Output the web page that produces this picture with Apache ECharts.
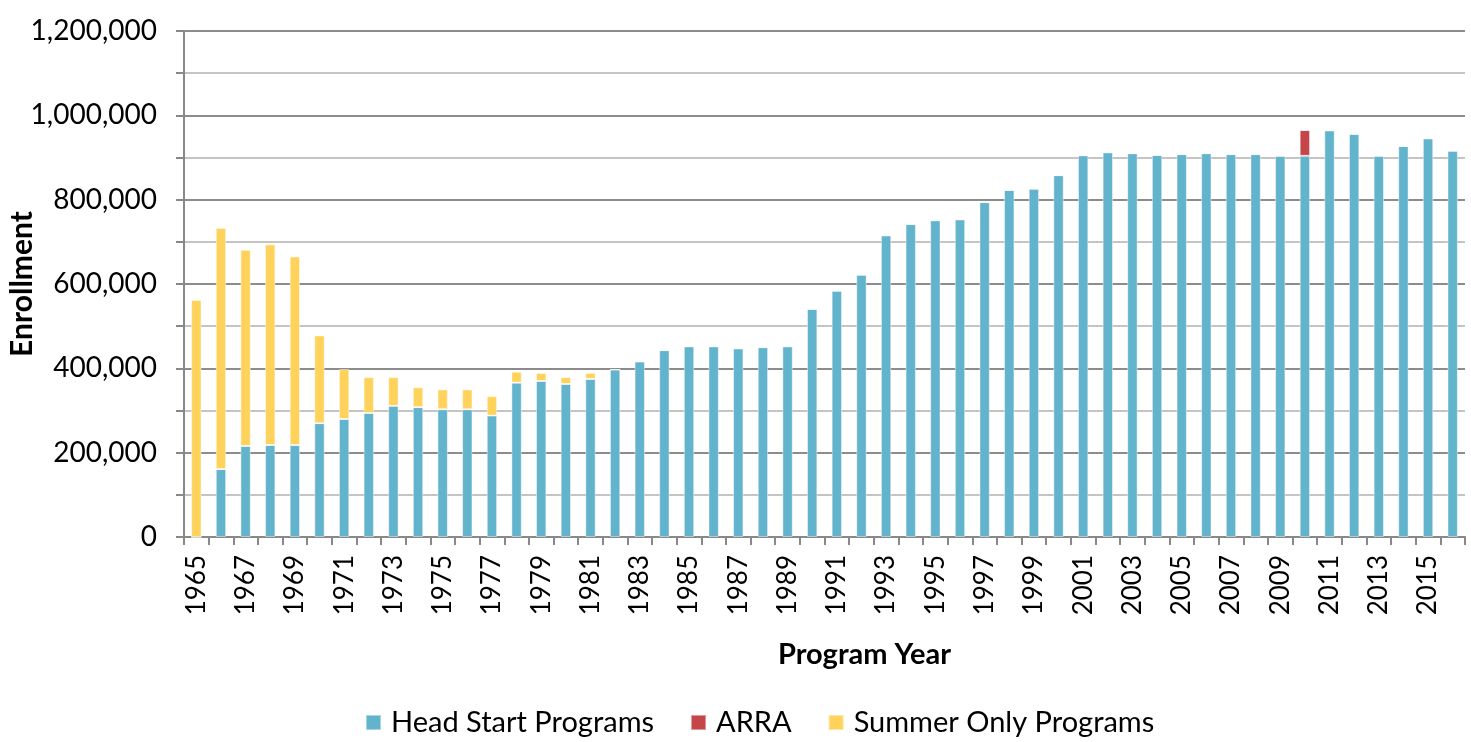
<!DOCTYPE html>
<html>
<head>
    <meta charset="utf-8">
    <title>Head Start Enrollment</title>
    <script src="https://cdn.jsdelivr.net/npm/echarts@6/dist/echarts.min.js"></script>
    <style>
        html, body { margin: 0; padding: 0; background: #fff; }
    </style>
</head>
<body>
    <div id="main" style="width:1471px;height:742px;"></div>
    <script type="text/javascript">
        // program years 1965 - 2016
        var years = [];
        for (var y = 1965; y <= 2016; y++) years.push(String(y));

        var headStart = [
            0, 161000, 216000, 218000, 218000, 270000, 280000, 294000, 311000, 308000,
            303000, 303000, 288000, 366000, 370000, 363000, 375000, 397000, 416000, 443000,
            452000, 452000, 447000, 450000, 452000, 541000, 584000, 622000, 715000, 742000,
            751000, 753000, 794000, 823000, 826000, 858000, 905000, 912000, 910000, 906000,
            908000, 910000, 908000, 908000, 904000, 904000, 964000, 956000, 904000, 927000,
            945000, 916000
        ];
        var arra = [];
        for (var i = 0; i < years.length; i++) arra.push(years[i] === '2010' ? 61000 : 0);
        var summerOnly = [
            562000, 572000, 465000, 476000, 447000, 208000, 118000, 85000, 68000, 47000,
            47000, 47000, 46000, 26000, 19000, 16000, 14000, 0, 0, 0,
            0, 0, 0, 0, 0, 0, 0, 0, 0, 0,
            0, 0, 0, 0, 0, 0, 0, 0, 0, 0,
            0, 0, 0, 0, 0, 0, 0, 0, 0, 0,
            0, 0
        ];

        var font = 'Lato, "Open Sans", sans-serif';
        var myChart = echarts.init(document.getElementById('main'));

        var barStyle = function (color) {
            return { color: color, borderColor: 'rgba(255,255,255,0.45)', borderWidth: 1 };
        };

        var option = {
            backgroundColor: '#fff',
            animation: false,
            textStyle: { fontFamily: font },
            grid: { left: 184, right: 6, top: 31, bottom: 205, outerBoundsMode: 'none' },
            legend: {
                bottom: 0,
                left: 360,
                itemWidth: 15,
                itemHeight: 15,
                itemGap: 36,
                icon: 'rect',
                textStyle: { fontSize: 29, color: '#000', fontFamily: font, padding: [0, 0, 0, 5] },
                data: ['Head Start Programs', 'ARRA', 'Summer Only Programs']
            },
            xAxis: {
                type: 'category',
                data: years,
                name: 'Program Year',
                nameLocation: 'middle',
                nameGap: 103,
                nameMoveOverlap: false,
                nameTextStyle: { fontSize: 29, fontWeight: 'bold', color: '#000', padding: [0, 0, 0, 80] },
                axisLine: { lineStyle: { color: '#888', width: 2 } },
                axisTick: { show: true, alignWithLabel: false, interval: 0, length: 8, lineStyle: { color: '#888', width: 2 } },
                axisLabel: { interval: 1, rotate: 90, fontSize: 26, color: '#000', margin: 18 }
            },
            yAxis: {
                type: 'value',
                min: 0,
                max: 1200000,
                interval: 100000,
                name: 'Enrollment',
                nameLocation: 'middle',
                nameGap: 147,
                nameMoveOverlap: false,
                nameTextStyle: { fontSize: 30, fontWeight: 'bold', color: '#000' },
                axisLine: { show: true, lineStyle: { color: '#888', width: 2 } },
                axisTick: { show: true, interval: 1, length: 8, lineStyle: { color: '#888', width: 2 } },
                axisLabel: {
                    fontSize: 28, color: '#000', margin: 27,
                    formatter: function (v) {
                        if (v % 200000 !== 0) return '';
                        return v.toLocaleString('en-US');
                    }
                },
                splitLine: { show: true, lineStyle: { color: ['#8c8c8c', '#c4c4c4'], width: 2 } }
            },
            series: [
                {
                    name: 'Head Start Programs',
                    type: 'bar',
                    stack: 'total',
                    barWidth: '42%',
                    itemStyle: barStyle('#62b3cc'),
                    data: headStart
                },
                {
                    name: 'ARRA',
                    type: 'bar',
                    stack: 'total',
                    itemStyle: barStyle('#c54649'),
                    data: arra
                },
                {
                    name: 'Summer Only Programs',
                    type: 'bar',
                    stack: 'total',
                    itemStyle: barStyle('#ffd25c'),
                    data: summerOnly
                }
            ]
        };

        myChart.setOption(option);
    </script>
</body>
</html>
